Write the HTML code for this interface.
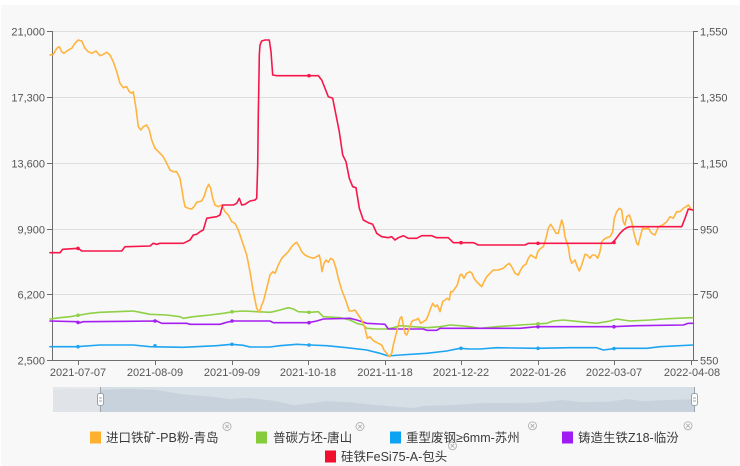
<!DOCTYPE html>
<html><head><meta charset="utf-8"><style>
html,body{margin:0;padding:0;background:#fff;}
svg{display:block;}
</style></head><body>
<svg width="740" height="466" viewBox="0 0 740 466" xmlns="http://www.w3.org/2000/svg">
<rect x="1" y="5" width="739" height="461" fill="#f8f8f8"/>
<!-- grid -->
<g stroke="#dedede" stroke-width="1">
<line x1="52" y1="31.5" x2="693" y2="31.5"/>
<line x1="52" y1="97.5" x2="693" y2="97.5"/>
<line x1="52" y1="163.5" x2="693" y2="163.5"/>
<line x1="52" y1="229.5" x2="693" y2="229.5"/>
<line x1="52" y1="294.5" x2="693" y2="294.5"/>
</g>
<!-- axes -->
<g stroke="#6e6e6e" stroke-width="1">
<line x1="52.5" y1="31" x2="52.5" y2="360.5"/>
<line x1="693.5" y1="31" x2="693.5" y2="360.5"/>
<line x1="52" y1="360.5" x2="694" y2="360.5"/>
<line x1="47" y1="31.5" x2="52" y2="31.5"/><line x1="47" y1="97.5" x2="52" y2="97.5"/><line x1="47" y1="163.5" x2="52" y2="163.5"/><line x1="47" y1="229.5" x2="52" y2="229.5"/><line x1="47" y1="294.5" x2="52" y2="294.5"/><line x1="47" y1="360.5" x2="52" y2="360.5"/>
<line x1="693" y1="31.5" x2="698" y2="31.5"/><line x1="693" y1="97.5" x2="698" y2="97.5"/><line x1="693" y1="163.5" x2="698" y2="163.5"/><line x1="693" y1="229.5" x2="698" y2="229.5"/><line x1="693" y1="294.5" x2="698" y2="294.5"/><line x1="693" y1="360.5" x2="698" y2="360.5"/>
<line x1="78.5" y1="360" x2="78.5" y2="365"/><line x1="155.5" y1="360" x2="155.5" y2="365"/><line x1="232.5" y1="360" x2="232.5" y2="365"/><line x1="308.5" y1="360" x2="308.5" y2="365"/><line x1="385.5" y1="360" x2="385.5" y2="365"/><line x1="461.5" y1="360" x2="461.5" y2="365"/><line x1="538.5" y1="360" x2="538.5" y2="365"/><line x1="614.5" y1="360" x2="614.5" y2="365"/><line x1="691.5" y1="360" x2="691.5" y2="365"/>
</g>
<g font-family="Liberation Sans, sans-serif" font-size="11" fill="#555">
<g text-anchor="end">
<text x="45" y="35.5">21,000</text>
<text x="45" y="101.5">17,300</text>
<text x="45" y="167.5">13,600</text>
<text x="45" y="233.5">9,900</text>
<text x="45" y="298.5">6,200</text>
<text x="45" y="364.5">2,500</text>
</g>
<g text-anchor="start">
<text x="700" y="35.5">1,550</text>
<text x="700" y="101.5">1,350</text>
<text x="700" y="167.5">1,150</text>
<text x="700" y="233.5">950</text>
<text x="700" y="298.5">750</text>
<text x="700" y="364.5">550</text>
</g>
<g text-anchor="middle">
<text x="78" y="376">2021-07-07</text>
<text x="155" y="376">2021-08-09</text>
<text x="232" y="376">2021-09-09</text>
<text x="308" y="376">2021-10-18</text>
<text x="385" y="376">2021-11-18</text>
<text x="461" y="376">2021-12-22</text>
<text x="538" y="376">2022-01-26</text>
<text x="614" y="376">2022-03-07</text>
<text x="692" y="376">2022-04-08</text>
</g>
</g>
<!-- series -->
<g fill="none" stroke-width="1.6" stroke-linejoin="round" stroke-linecap="round">
<polyline stroke="#1ea5f2" points="50,346.7 76.7,346.7 100,345 133.3,345 150,346.7 183.3,347.3 216.7,345.7 231.7,344.3 243.3,345.3 250,347 270,347 280,345.7 296.7,344.3 310,345 326.7,345.7 346.7,347.7 366.7,350 380,353.3 388.3,356 400,355 426.7,353.3 446.7,351 460,348.3 470,349 480,349 496.7,347.7 536.7,348.3 570,347.7 596.7,347.7 603.3,350 616.7,348.3 646.7,348.3 660,346.7 692.7,345"/>
<polyline stroke="#8fd046" points="50,319 60,317.7 70,316.7 80,315 90,313.3 100,312.3 116.7,311.7 133.3,311 140,312.3 150,314.3 166.7,315 180,316.7 183.3,318.3 193.3,316.7 210,315 223.3,313.3 233.3,311.7 243.3,311 256.7,311.7 270,312.3 273.3,311.7 280,310 288.3,307.7 293.3,309 298.3,311.7 310,312.3 318.3,311.7 323.3,316.7 340,317.7 350,320 356.7,323.3 363.3,325 366.7,328.3 376.7,329 386.7,329 393.3,327.7 400,325.7 413.3,326.7 426.7,327.7 440,326.7 450,325 460,325.7 470,326.7 480,328.3 496.7,326.7 520,325 536.7,324 546.7,323.3 553.3,321 563.3,320 580,321.7 596.7,323.3 610,321 616.7,319 630,321 650,320 663.3,319 676.7,318.3 692.7,317.7"/>
<polyline stroke="#a51ff0" points="50,321 76.7,321.7 80,322.7 83.3,321.7 156.7,321 161.7,323.3 186.7,323.3 190,324.3 220,324.3 226.7,322.3 233.3,321 270,321 273.3,322.7 308.3,322.7 316.7,321 323.3,319 350,318.3 356.7,320 366.7,323.3 385,324.3 388.3,329 423.3,329 426.7,330.3 436.7,330.3 440,328.3 520,328.3 536.7,326.7 613.3,326.7 636.7,325.7 683.3,325 688.3,323.3 692.7,323.3"/>
<polyline stroke="#ffb43e" points="50,55 53.3,54.3 56.7,48.3 59.3,46.7 61.7,51.7 64,53.3 68.3,50 71.7,48.3 75,43.3 78.3,40 81.7,41 85,48.3 88.3,51.7 91.7,53.3 96,51 100,55.7 103.3,54.3 106.7,52.3 110,55 113.3,61.7 116.7,71.7 120,83.3 123.3,87.7 126.7,86.7 129.3,91.7 131.7,93.3 133.3,91.7 136,108.3 138.3,126.7 140.7,130 143.3,126.7 146.7,125 149.3,130 151.7,140 155,148.3 156.7,150 160,153.3 163.3,156.7 166.7,163.3 170,170 173.3,171.7 176.7,171.7 180,178.3 181.7,188.3 183.3,198.3 185,206.7 188.3,208.3 191.7,209 194,206.7 196.7,202.3 201.7,201 204,196.7 206.7,188.3 208.7,184.3 210.7,188.3 212.7,198.3 215,205 218.3,206.7 221.7,205 225,211.7 228.3,215 231.7,221.7 235,223.3 238.3,230 241.7,240 246.7,255 250,271.7 253.3,291.7 256.7,308.3 259.3,312.3 261.7,305 263.3,301.7 266.7,288.3 270,275 272.7,271.7 275,273.3 278.3,265 281.7,258.3 285,255 288.3,251.7 291.7,246.7 295,243.3 296.7,242.3 299.3,246.7 301.7,251.7 305,255 308.3,256.7 313.3,258.3 316.7,256.7 319.3,255 320.7,261.7 322,271.7 324,263.3 326,260 328.3,262.3 330.7,258.3 333.3,260 336,268.3 338.3,278.3 341.7,290 345,298.3 347.3,305 349.3,311 351.7,311 355,310 358.3,315 361.7,320 365,328.3 367.3,338.3 370,336.7 372.7,340 375,341.7 378.3,343.3 381.7,345 384,350 386.7,353.3 389.3,356.7 391.7,353.3 393.3,345 395,338.3 396.7,331.7 398.3,325 400,318.3 401.7,316.7 403.3,325 405,333.3 406.7,335 409.3,328.3 411.7,321.7 414,320 416,320 418.3,318.3 420.7,323.3 423.3,321.7 426,320 428.3,315 430.7,308.3 432.7,303.3 435,306.7 437.3,305 440,311.7 442.7,301.7 445,300 447.3,298.3 449.3,300 450.7,291.7 452.7,291.7 455,288.3 457.3,285 460,275 461.7,274.3 464,278.3 466.7,273.3 470,271.7 472,273.3 474,278.3 476.7,281.7 480,285 481.7,286.7 484,281.7 486.7,276.7 490,273.3 493.3,270 498.3,270 503.3,268.3 506.7,265 509.3,263.3 511.7,266.7 515,273.3 518.3,275 520.7,270 523.3,265.7 526,264.3 528.3,258.3 530.7,255 533.3,256.7 536,258.3 537.7,251.7 540,249 543.3,246.7 546,238.3 548.3,228.3 550.7,224.3 553.3,228.3 556,233.3 558.3,233.3 560,226.7 561.7,220 563.3,225 565,236.7 568.3,246.7 570,258.3 571.7,263.3 575,260 577.3,266.7 579.3,271 581.7,265 585,254.3 587.3,255 590,258.3 592.3,255 595,255 597.7,258.3 600,251.7 601.7,241.7 604,239.3 606.7,237.7 610,236.7 612.7,231.7 614.3,218.3 616.7,211.7 619.3,208.3 621.7,210 623.3,221.7 625,225 626.7,216.7 629.3,215 631.7,221.7 634,233.3 636.7,243.3 638.3,245 640.7,235 642.7,228.3 645,229 648.3,228.3 651.7,233.3 655,235 658.3,226.7 662.7,225 666.7,221.7 670,216.7 673.3,218.3 676.7,211.7 680,211.7 683.3,208.3 686,206.7 688.3,205 690.7,208.3 692.7,210"/>
<polyline stroke="#f5174a" points="50,252.7 60,252.7 62.7,249.3 78.3,248.3 81.7,251 121.7,251 125,246.7 150,246 153.3,243.3 156.7,244.3 160,243.3 183.3,243.3 186.7,241.7 190,240 193.3,235 196.7,234.3 200,231.7 203.3,230 206.7,218.3 210,217.7 216.7,216.7 220,215 222.7,205 226.7,205 233.3,205 236.7,203.3 239.3,198.3 241.7,205 245,204.3 250,201 255,200 256.7,198.3 257.7,165 258.3,115 259,75 259.3,55 260,45 261.7,41 265,40 269.3,40 271,51.7 272.7,75 276.7,75.7 318.3,75.7 321.7,80 325,88.3 328.3,96.7 332.7,98.3 336,115 339.3,131.7 342.7,155 346,161.7 349.3,178.3 352.7,186.7 356,187.7 359.3,208.3 363.3,220 368.3,222.7 372.7,224.3 376.7,233.3 381.7,236.7 388.3,237.7 391.7,236.7 395,240 398.3,237.7 403.3,235.7 408.3,238.3 416.7,238.3 421.7,235.7 431.7,235.7 436.7,237.7 448.3,237.7 453.3,242.7 473.3,242.7 475,243.3 478.3,245 525,245 528.3,243.3 611.7,243.3 615,240 620,233.3 623.3,230 626.7,227.7 630,226.7 681.7,226.7 685,218.3 688.3,209 692.7,210"/>
</g>
<!-- symbols -->
<g fill="#1ea5f2"><circle cx="78" cy="346.7" r="1.8"/><circle cx="155" cy="345.8" r="1.8"/><circle cx="232" cy="344.3" r="1.8"/><circle cx="309" cy="345" r="1.8"/><circle cx="461" cy="348.3" r="1.8"/><circle cx="538" cy="348.3" r="1.8"/><circle cx="614" cy="348.6" r="1.8"/></g>
<g fill="#a51ff0"><circle cx="78" cy="322.4" r="1.8"/><circle cx="155" cy="321" r="1.8"/><circle cx="232" cy="321" r="1.8"/><circle cx="309" cy="322.7" r="1.8"/><circle cx="538" cy="326.7" r="1.8"/><circle cx="614" cy="326.7" r="1.8"/></g>
<g fill="#8fd046"><circle cx="78" cy="315.3" r="1.8"/><circle cx="232" cy="311.7" r="1.8"/><circle cx="309" cy="312.3" r="1.8"/><circle cx="538" cy="323.8" r="1.8"/></g>
<g fill="#f5174a"><circle cx="78" cy="248.4" r="1.8"/><circle cx="309" cy="75.7" r="1.8"/><circle cx="461" cy="242.7" r="1.8"/><circle cx="538" cy="243.3" r="1.8"/><circle cx="614" cy="242.5" r="1.8"/></g>
<!-- data zoom -->
<rect x="53" y="387" width="47" height="25" fill="#e5e8ec"/>
<polygon points="53,412 53,390 60,389.5 70,388.8 80,389.3 90,389 100,389.9 100,412" fill="#e0e4e8"/>
<rect x="100" y="387" width="594" height="25" fill="#d6dee6"/>
<polygon fill="#c8d2dc" points="100,412 100,389.9 127.8,389 155.5,389.9 183.3,394.4 211,396.8 229.5,399.1 248,397.9 275.8,401 293.3,405.3 327.6,401.1 349.8,402.3 377.5,405.3 413.6,408 423.8,405.7 451.5,405.1 479.3,403.1 507,403 534.8,402.8 562.5,400 581,402.1 608.8,401.7 626.3,399.1 643.9,401.3 664.3,400.1 694,399.2 694,412"/>
<line x1="100.5" y1="387" x2="100.5" y2="412" stroke="#9aa4ae" stroke-width="1"/>
<line x1="694.5" y1="387" x2="694.5" y2="412" stroke="#9aa4ae" stroke-width="1"/>
<rect x="97.5" y="393.5" width="6" height="12" rx="2" fill="#fff" stroke="#9aa4ae"/>
<line x1="99" y1="398" x2="102" y2="398" stroke="#9aa4ae"/><line x1="99" y1="401" x2="102" y2="401" stroke="#9aa4ae"/>
<rect x="691.5" y="393.5" width="6" height="12" rx="2" fill="#fff" stroke="#9aa4ae"/>
<line x1="693" y1="398" x2="696" y2="398" stroke="#9aa4ae"/><line x1="693" y1="401" x2="696" y2="401" stroke="#9aa4ae"/>
<!-- legend -->
<rect x="90" y="431.5" width="11" height="12" fill="#ffb02e"/>
<rect x="256" y="431.5" width="11" height="12" fill="#86cc3a"/>
<rect x="390" y="431.5" width="11" height="12" fill="#0ea2f3"/>
<rect x="562" y="431.5" width="11" height="12" fill="#a11cf2"/>
<rect x="325" y="450.5" width="11" height="12" fill="#f0102e"/>
<g font-family="Liberation Sans, Noto Sans CJK SC, sans-serif" font-size="12.5" fill="#3a3a3a">
<text x="106" y="442">进口铁矿-PB粉-青岛</text>
<text x="273" y="442">普碳方坯-唐山</text>
<text x="406" y="442">重型废钢≥6mm-苏州</text>
<text x="578" y="442">铸造生铁Z18-临汾</text>
<text x="341" y="461">硅铁FeSi75-A-包头</text>
</g>
<g fill="none" stroke="#b0b0b0" stroke-width="0.9">
<circle cx="227" cy="426.5" r="4"/><path d="M225.3,424.8 L228.7,428.2 M228.7,424.8 L225.3,428.2"/>
<circle cx="360" cy="426.5" r="4"/><path d="M358.3,424.8 L361.7,428.2 M361.7,424.8 L358.3,428.2"/>
<circle cx="532.5" cy="425.8" r="4"/><path d="M530.8,424.1 L534.2,427.5 M534.2,424.1 L530.8,427.5"/>
<circle cx="688" cy="425.8" r="4"/><path d="M686.3,424.1 L689.7,427.5 M689.7,424.1 L686.3,427.5"/>
<circle cx="452.5" cy="445.8" r="4"/><path d="M450.8,444.1 L454.2,447.5 M454.2,444.1 L450.8,447.5"/>
</g>
</svg>
</body></html>
